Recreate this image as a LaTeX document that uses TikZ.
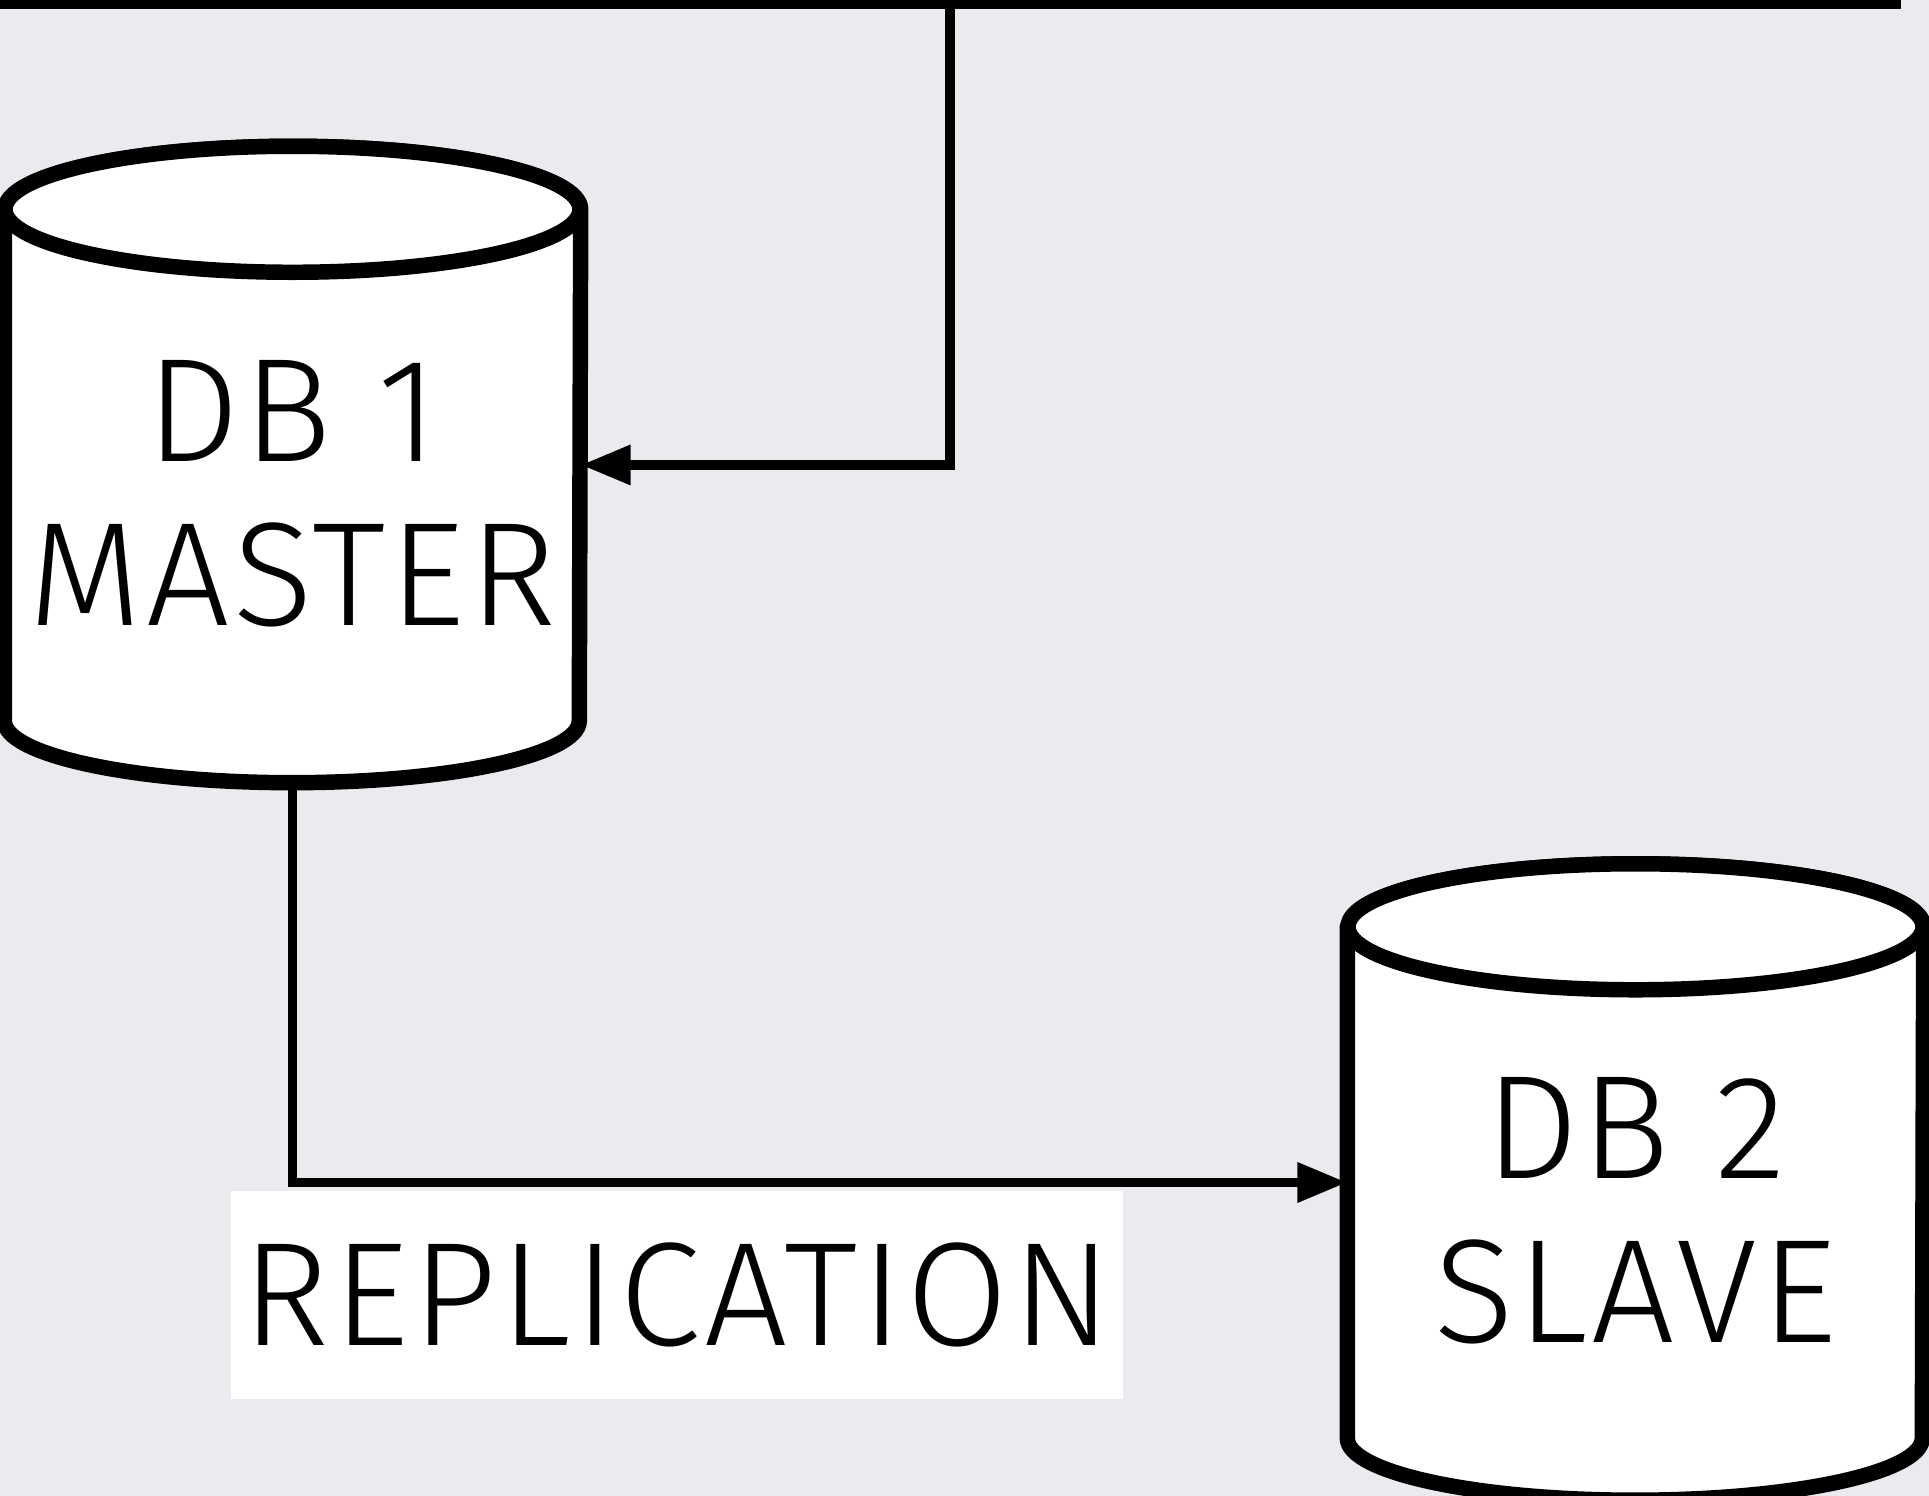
\documentclass[tikz,border=0pt]{standalone}
\usepackage{fontspec}
\setmainfont{Fira Sans Light}[LetterSpace=2.5]
\usepackage{tikz}
\usetikzlibrary{arrows.meta}

\definecolor{slidebg}{RGB}{233,235,239}

\begin{document}
\begin{tikzpicture}[
        cyl/.style={draw=black, line width=4.4pt, line join=round, fill=white},
        dbbox/.style={minimum width=5.75cm, minimum height=5.1cm, inner sep=0pt},
        dbtext/.style={align=center, font=\fontsize{42pt}{46.7pt}\selectfont},
        link/.style={draw=black, line width=2.8pt, -{Triangle[length=5mm, width=3.8mm]}},
        wire/.style={draw=black, line width=3.2pt}
    ]
        \fill[slidebg] (0,0) rectangle (19.29,14.96);
        \useasboundingbox (0,0) rectangle (19.29,14.96);

        % master
        \node[dbbox] (master) at (2.925,10.31) {};
        \draw[cyl] (master.north west) -- (master.south west)
            arc[start angle=180, end angle=360, x radius=2.875cm, y radius=0.62cm]
            -- (master.north east)
            arc[start angle=0, end angle=180, x radius=2.875cm, y radius=0.63cm] -- cycle;
        \draw[cyl] (master.north) ellipse [x radius=2.875cm, y radius=0.63cm];
        \node[dbtext] (mastertext) at ([yshift=-0.29cm]master.center) {DB 1\\MASTER};

        % slave
        \node[dbbox] (slave) at (16.355,3.135) {};
        \draw[cyl] (slave.north west) -- (slave.south west)
            arc[start angle=180, end angle=360, x radius=2.875cm, y radius=0.62cm]
            -- (slave.north east)
            arc[start angle=0, end angle=180, x radius=2.875cm, y radius=0.63cm] -- cycle;
        \draw[cyl] (slave.north) ellipse [x radius=2.875cm, y radius=0.63cm];
        \node[dbtext] (slavetext) at ([yshift=-0.28cm]slave.center) {DB 2\\SLAVE};

        \node[fill=white, minimum width=8.92cm, minimum height=2.08cm,
            font=\fontsize{42pt}{46.7pt}\selectfont] (repl) at (6.77,2.01) {REPLICATION};

        \coordinate (busleft) at (0,14.93);
        \coordinate (busright) at (19.01,14.93);
        \coordinate (tap) at (9.50,14.93);
        \coordinate (masterfoot) at ([yshift=-0.62cm]master.south);

        \draw[wire] (busleft) -- (busright);
        \draw[link] (tap) |- (master.east);
        \draw[link] (masterfoot) |- (slave.west);
    \end{tikzpicture}
\end{document}
